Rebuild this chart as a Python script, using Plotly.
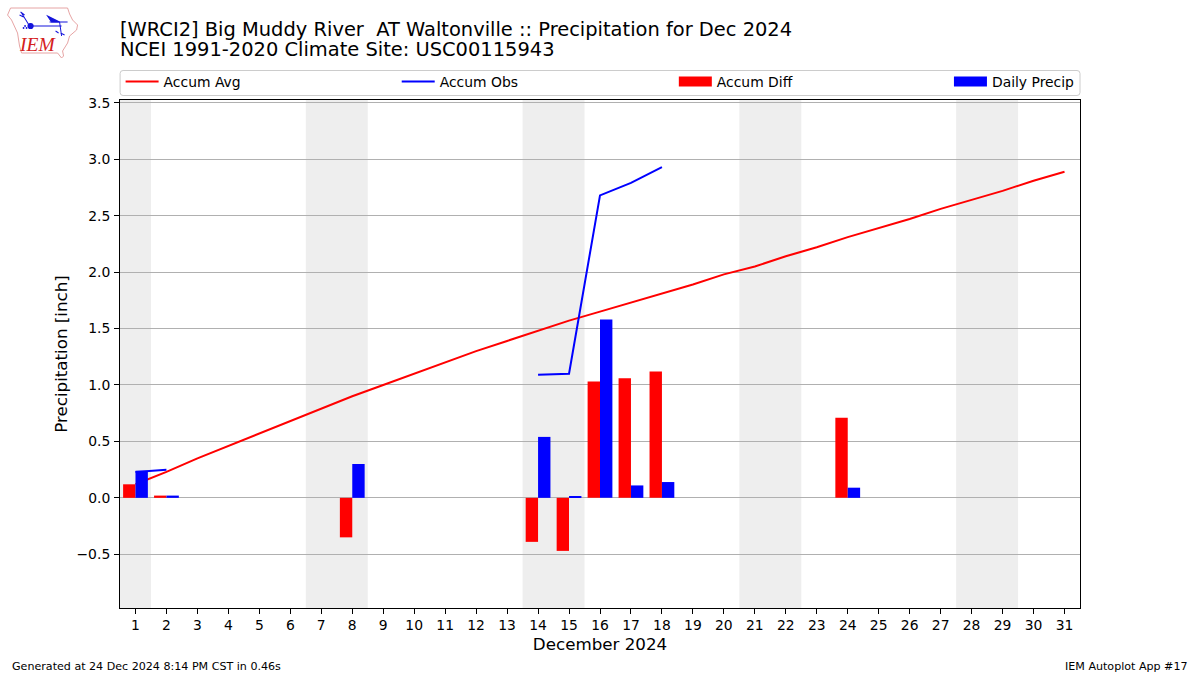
import base64
import plotly.graph_objects as go

days = list(range(1, 32))
accum_avg = [0.12, 0.23, 0.35, 0.46, 0.57, 0.68, 0.79, 0.90, 1.00, 1.10, 1.20, 1.30, 1.39, 1.48, 1.57, 1.65,
             1.73, 1.81, 1.89, 1.98, 2.05, 2.14, 2.22, 2.31, 2.39, 2.47, 2.56, 2.64, 2.72, 2.81, 2.89]
obs_days = [1, 2, None, 14, 15, 16, 17, 18]
accum_obs = [0.23, 0.25, None, 1.09, 1.10, 2.68, 2.79, 2.93]
bar_days = [1, 2, 8, 14, 15, 16, 17, 18, 24]
accum_diff = [0.12, 0.02, -0.35, -0.39, -0.47, 1.03, 1.06, 1.12, 0.71]
daily_precip = [0.24, 0.02, 0.30, 0.54, 0.01, 1.58, 0.11, 0.14, 0.09]
weekends = [(1, 1), (7, 8), (14, 15), (21, 22), (28, 29)]
y_ticks = [-0.5, 0, 0.5, 1, 1.5, 2, 2.5, 3, 3.5]
y_labels = ["\u22120.5", "0.0", "0.5", "1.0", "1.5", "2.0", "2.5", "3.0", "3.5"]
title_line1 = "[WRCI2] Big Muddy River  AT Waltonville :: Precipitation for Dec 2024"
title_line2 = "NCEI 1991-2020 Climate Site: USC00115943"

FONT = "DejaVu Sans"
W, H = 1200, 675
L, R, T, B = 120.4, 1080, 100, 608
PW, PH = R - L, B - T
y_range = [-0.976, 3.525]

def px(x):
    return (x - L) / PW

def py(y):
    return (B - y) / PH

logo_svg = '''<svg xmlns="http://www.w3.org/2000/svg" width="320" height="240" viewBox="0 0 80 60">
<path d="M11 8 L68 8 L70 14 L73 20 L78 25 L77 30 L70 36 L68 43 L63 51 L64 56 L62 58 L58 53 L22 53 L20 46 L18 33 L12 20 L8 15 Z" fill="none" stroke="#e39a9a" stroke-width="0.9"/>
<g stroke="#1414dc" fill="#1414dc" stroke-width="1">
<path d="M31 26 L62 26 M50 22 L68 22 M60 22 L62 36 M22 13 L30 26 M21 12 L25 15 M20 15 L24 17 M56 31 L59 33 M61 33 L65 35" fill="none"/>
<circle cx="31" cy="26" r="2.6"/><path d="M48 16 L60 22 L52 22 Z"/>
<circle cx="24" cy="28" r="0.9" stroke="none"/><circle cx="27" cy="28" r="0.9" stroke="none"/><circle cx="25.5" cy="26" r="0.9" stroke="none"/>
</g>
<text x="20.5" y="51" font-family="Liberation Serif" font-style="italic" font-size="19.5" fill="#d42020">IEM</text>
</svg>'''
logo = "data:image/svg+xml;base64," + base64.b64encode(logo_svg.encode()).decode()

fig = go.Figure()
fig.add_trace(go.Scatter(x=days, y=accum_avg, mode="lines", name="Accum Avg", legend="legend",
                         line=dict(color="#ff0000", width=2)))
fig.add_trace(go.Scatter(x=obs_days, y=accum_obs, mode="lines", name="Accum Obs", yaxis="y2", legend="legend2",
                         line=dict(color="#0000ff", width=2), connectgaps=False))
fig.add_trace(go.Bar(x=bar_days, y=accum_diff, name="Accum Diff", yaxis="y2", showlegend=False, legendgroup="diff",
                     marker=dict(color="#ff0000", line_width=0)))
fig.add_trace(go.Bar(x=bar_days, y=daily_precip, name="Daily Precip", yaxis="y2", showlegend=False, legendgroup="daily",
                     marker=dict(color="#0000ff", line_width=0)))
# legend-only keys, so the bar series get the wide patch of the reference legend
fig.add_trace(go.Scatter(x=[None], y=[None], mode="lines", name="Accum Diff", legend="legend3", legendgroup="diff",
                         yaxis="y2", line=dict(color="#ff0000", width=10), hoverinfo="skip"))
fig.add_trace(go.Scatter(x=[None], y=[None], mode="lines", name="Daily Precip", legend="legend4", legendgroup="daily",
                         yaxis="y2", line=dict(color="#0000ff", width=10), hoverinfo="skip"))

shapes = [dict(type="rect", xref="x", yref="paper", x0=a - 0.5, x1=b + 0.5, y0=0, y1=1,
               fillcolor="#eeeeee", line_width=0, layer="below") for a, b in weekends]

# rounded frame behind the four legend keys
x0, x1, y0, y1, r = 120.5, 1080, 70.5, 95.5, 3
frame = (f"M{px(x0 + r)},{py(y0)} L{px(x1 - r)},{py(y0)} Q{px(x1)},{py(y0)} {px(x1)},{py(y0 + r)} "
         f"L{px(x1)},{py(y1 - r)} Q{px(x1)},{py(y1)} {px(x1 - r)},{py(y1)} L{px(x0 + r)},{py(y1)} "
         f"Q{px(x0)},{py(y1)} {px(x0)},{py(y1 - r)} L{px(x0)},{py(y0 + r)} Q{px(x0)},{py(y0)} {px(x0 + r)},{py(y0)} Z")
shapes.append(dict(type="path", xref="paper", yref="paper", path=frame, line=dict(color="#cccccc", width=1),
                   fillcolor="white", layer="above"))

def note(text, x, y, xanchor, size=11.1):
    return dict(text=text, x=px(x), y=py(y), xref="paper", yref="paper", xanchor=xanchor, yanchor="middle",
                showarrow=False, font=dict(family=FONT, size=size, color="black"))

def key(x):
    return dict(orientation="v", x=px(x), xanchor="left", y=py(82), yanchor="middle", bgcolor="rgba(0,0,0,0)",
                borderwidth=0, itemwidth=33, font=dict(family=FONT, size=13.9, color="black"))

fig.update_layout(
    width=W, height=H, autosize=False, paper_bgcolor="white", plot_bgcolor="white",
    margin=dict(l=L, r=W - R, t=T, b=H - B, pad=0),
    font=dict(family=FONT, size=13.9, color="black"),
    barmode="group", bargap=0.2, bargroupgap=0,
    showlegend=True,
    title=dict(text=title_line1, x=120 / W, xref="container", xanchor="left", y=1 - 29 / H, yref="container", yanchor="middle",
               font=dict(family=FONT, size=19.45, color="black"), automargin=False),
    xaxis=dict(range=[0.5, 31.5], tickmode="array", tickvals=days, ticktext=[str(d) for d in days],
               showgrid=False, zeroline=False, ticks="outside", ticklen=5, tickwidth=1, tickcolor="black",
               ticklabelstandoff=-1,
               showline=True, linecolor="black", linewidth=1, mirror=True,
               title=dict(text="December 2024", font=dict(family=FONT, size=16.7), standoff=6)),
    yaxis=dict(range=y_range, tickmode="array", tickvals=y_ticks, ticktext=y_labels,
               showgrid=True, gridcolor="#b0b0b0", gridwidth=1, zeroline=False,
               ticks="outside", ticklen=5, tickwidth=1, tickcolor="black",
               ticklabelstandoff=1,
               showline=True, linecolor="black", linewidth=1, mirror=True,
               title=dict(text="Precipitation [inch]", font=dict(family=FONT, size=16.7), standoff=4)),
    yaxis2=dict(range=y_range, overlaying="y", visible=False, showgrid=False, zeroline=False),
    legend=key(121), legend2=key(397), legend3=key(674), legend4=key(949),
    shapes=shapes,
    annotations=[note(title_line2, 118, 50, "left", 19.45),
                 note("Generated at 24 Dec 2024 8:14 PM CST in 0.46s", 10, 666, "left"),
                 note("IEM Autoplot App #17", 1190, 666, "right")],
    images=[dict(source=logo, xref="paper", yref="paper", x=px(0), y=py(0), sizex=80 / PW, sizey=60 / PH,
                 xanchor="left", yanchor="top", sizing="stretch", layer="above")],
)
fig.write_html("out.html", config=dict(displayModeBar=False),
               post_script="document.body.style.margin='0';document.body.style.overflow='hidden';")
